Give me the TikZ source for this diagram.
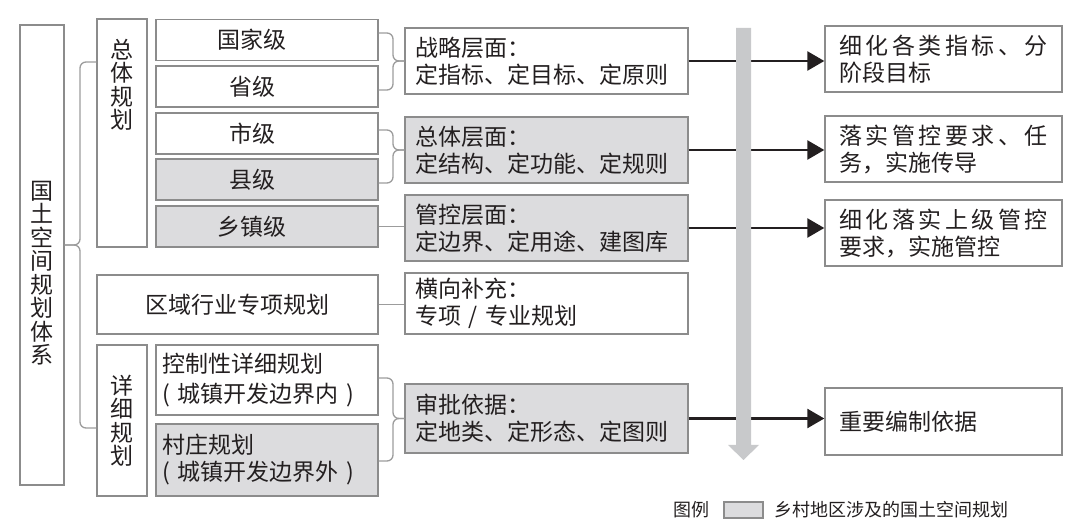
\documentclass[tikz,border=0pt]{standalone}
\usepackage{fontspec}
\newfontfamily\cjk{Noto Sans CJK SC}
\usetikzlibrary{arrows.meta}
\usetikzlibrary{positioning}

\definecolor{ink}{HTML}{231F20}
\definecolor{boxline}{HTML}{8C8C8C}
\definecolor{rural}{HTML}{DCDCDE}
\definecolor{barfill}{HTML}{C8C9CB}
\definecolor{braceline}{HTML}{9C9C9C}

\newcommand{\spreadline}[1]{\makebox[\hsize][s]{#1}}

\tikzset{
    plan/.style={draw=boxline, line width=1.4pt, inner sep=0pt, text=ink,
        font=\cjk\fontsize{23}{27}\selectfont},
    level/.style={plan, minimum width=222pt, minimum height=41pt},
    note/.style={plan, text width=263pt, inner xsep=10pt, minimum height=66pt, align=left},
    task/.style={plan, text width=209pt, inner xsep=14pt, minimum height=66pt, align=left},
    vlabel/.style={align=center, inner sep=0pt, text=ink,
        font=\cjk\fontsize{23}{23.5}\selectfont},
    legendtext/.style={inner sep=0pt, text=ink, font=\cjk\fontsize{18}{20}\selectfont},
    brace/.style={draw=braceline, line width=1.3pt, rounded corners=6pt},
    arr/.style={draw=ink, line width=2.6pt, -{Triangle[length=17pt,width=19pt]}}}

\begin{document}
\begin{tikzpicture}[x=1pt, y=-1pt]

    \useasboundingbox (0,0) rectangle (1080,529);

    % left column
    \node[plan, minimum width=44pt, minimum height=460pt,
        label={[vlabel, yshift=-18pt]center:国\\土\\空\\间\\规\\划\\体\\系}] (sys) at (42,255) {};
    \node[plan, minimum width=50pt, minimum height=228pt,
        label={[vlabel, yshift=48pt]center:总\\体\\规\\划}] (zt) at (122,133) {};
    \node[plan, minimum width=50pt, minimum height=151pt,
        label={[vlabel]center:详\\细\\规\\划}] (xx) at (122,420.5) {};

    % planning levels
    \node[level] (gj) at (267,40) {国家级\hspace*{30pt}};
    \node[level] (sj) at (267,86.5) {省级\hspace*{30pt}};
    \node[level] (shi) at (267,133.5) {市级\hspace*{30pt}};
    \node[level, fill=rural] (xian) at (267,179.5) {县级\hspace*{30pt}};
    \node[level, fill=rural] (xz) at (267,226.5) {乡镇级\hspace*{30pt}};
    \node[plan, minimum width=281pt, minimum height=59pt] (qy) at (237.5,304.5) {区域行业专项规划};
    \node[plan, text width=210pt, inner xsep=6pt, minimum height=70pt, align=left,
        font=\cjk\fontsize{23}{30}\selectfont] (kz) at (267,380) {控制性详细规划\\( 城镇开发边界内 )};
    \node[plan, fill=rural, text width=210pt, inner xsep=6pt, minimum height=72pt, align=left] (cz) at (267,460) {村庄规划\\( 城镇开发边界外 )};

    % middle column
    \node[note] (zl) at (546.5,61) {战略层面：\\定指标、定目标、定原则};
    \node[note, fill=rural] (zti) at (546.5,150) {总体层面：\\定结构、定功能、定规则};
    \node[note, fill=rural] (gk) at (546.5,228) {管控层面：\\定边界、定用途、建图库};
    \node[note, minimum height=61pt] (hx) at (546.5,303.5) {横向补充：\\专项 / 专业规划};
    \node[note, fill=rural, minimum height=69pt] (sp) at (546.5,418.5) {审批依据：\\定地类、定形态、定图则};

    % right column
    \node[task] (r1) at (943.5,59) {\spreadline{细\hfill 化\hfill 各\hfill 类\hfill 指\hfill 标\hfill 、\hfill 分}\\阶段目标};
    \node[task] (r2) at (943.5,149) {\spreadline{落\hfill 实\hfill 管\hfill 控\hfill 要\hfill 求\hfill 、\hfill 任}\\务，实施传导};
    \node[task] (r3) at (943.5,233) {\spreadline{细\hfill 化\hfill 落\hfill 实\hfill 上\hfill 级\hfill 管\hfill 控}\\要求，实施管控};
    \node[task, minimum height=67pt] (r4) at (943.5,421.5) {重要编制依据};

    % braces
    \draw[brace] (zt.west |- 0,62) -- (80,62) -- (80,245) -- (sys.east |- 0,245);
    \draw[brace] (xx.west |- 0,428) -- (80,428) -- (80,245) -- (sys.east |- 0,245);
    \draw[brace] (gj.east |- 0,33) -- (393,33) -- (393,61) -- (zl.west);
    \draw[brace] (sj.east |- 0,90) -- (393,90) -- (393,61) -- (zl.west);
    \draw[brace] (shi.east |- 0,130) -- (393,130) -- (393,150) -- (zti.west);
    \draw[brace] (xian.east |- 0,183) -- (393,183) -- (393,150) -- (zti.west);
    \draw[brace] (xz.east) -- (xz.east -| gk.west);
    \draw[brace] (qy.east) -- (qy.east -| hx.west);
    \draw[brace] (kz.east |- 0,378) -- (393,378) -- (393,418.5) -- (sp.west);
    \draw[brace] (cz.east |- 0,461) -- (393,461) -- (393,418.5) -- (sp.west);

    % arrows to the right
    \draw[arr] (zl.east) -- (zl.east -| r1.west);
    \draw[arr] (zti.east) -- (zti.east -| r2.west);
    \draw[arr] (gk.east) -- (gk.east -| r3.west);
    \draw[arr] (sp.east) -- (sp.east -| r4.west);

    % gray downward bar
    \fill[barfill] (736,28) -- (751,28) -- (751,445) -- (759,445) -- (743.5,460)
        -- (728,445) -- (736,445) -- cycle;

    % legend
    \node[plan, fill=rural, line width=1.2pt, minimum width=39pt, minimum height=16pt] (lg) at (743.5,510) {};
    \node[legendtext, left=14pt of lg] (lgname) {图例};
    \node[legendtext, right=11pt of lg] (lgtext) {乡村地区涉及的国土空间规划};

\end{tikzpicture}
\end{document}
